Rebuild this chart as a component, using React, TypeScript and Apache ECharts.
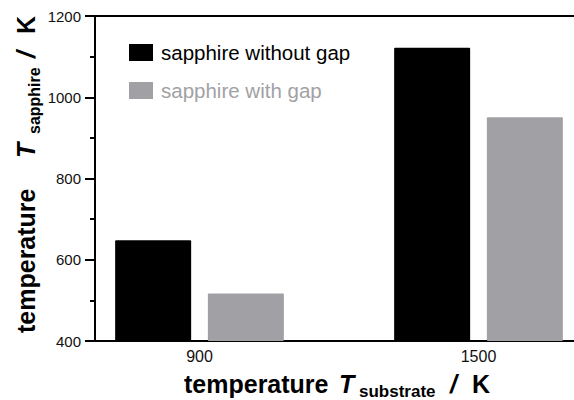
import React, { useEffect, useRef } from "react";
import * as echarts from "echarts";

const categories = ["900", "1500"];
const seriesNames = ["sapphire without gap", "sapphire with gap"];
const withoutGap = [648, 1122];
const withGap = [517, 951];
const yTicks = [400, 600, 800, 1000, 1200];

const FONT = "'Liberation Sans', Arial, sans-serif";
const BLACK = "#000000";
const GRAY = "#a1a1a5";

export default function App() {
  const ref = useRef<HTMLDivElement>(null);
  useEffect(() => {
    if (!ref.current) return;
    const chart = echarts.init(ref.current, undefined, { renderer: "svg" });
    const xMin = -0.3746;
    const xMax = 1.3423;
    const titleMain = { fontFamily: FONT, fontSize: 25, fontWeight: "bold" as const, fill: "#000" };
    const titleSub = { fontFamily: FONT, fontSize: 17, fontWeight: "bold" as const, fill: "#000" };
    chart.setOption({
      animation: false,
      grid: { left: 95, right: 0, top: 16, bottom: 59, containLabel: false },
      legend: {
        orient: "vertical",
        left: 129,
        top: 42,
        padding: 0,
        itemWidth: 24,
        itemHeight: 17,
        itemGap: 17,
        icon: "rect",
        selectedMode: false,
        textStyle: { fontFamily: FONT, fontSize: 20.5, padding: [0, 0, 0, 3] },
        data: [
          { name: seriesNames[0], textStyle: { color: BLACK } },
          { name: seriesNames[1], textStyle: { color: GRAY } },
        ],
      },
      xAxis: [
        {
          type: "value",
          position: "bottom",
          min: xMin,
          max: xMax,
          splitLine: { show: false },
          axisTick: { show: false },
          axisLine: { show: true, onZero: false, lineStyle: { color: "#000", width: 2 } },
          axisLabel: {
            customValues: categories.map((_, i) => i),
            formatter: (v: number) => categories[Math.round(v)] ?? "",
            fontFamily: FONT,
            fontSize: 16,
            color: "#111",
            margin: 7,
          },
        },
        {
          type: "value",
          position: "top",
          min: xMin,
          max: xMax,
          splitLine: { show: false },
          axisTick: { show: false },
          axisLabel: { show: false },
          axisLine: { show: true, onZero: false, lineStyle: { color: "#000", width: 2 } },
        },
      ],
      yAxis: {
        type: "value",
        min: yTicks[0],
        max: yTicks[yTicks.length - 1],
        interval: 200,
        splitLine: { show: false },
        axisLine: { show: true, onZero: false, lineStyle: { color: "#000", width: 2 } },
        axisTick: { show: true, length: 10, lineStyle: { color: "#000", width: 2 } },
        minorTick: { show: true, splitNumber: 2, length: 5, lineStyle: { color: "#000", width: 2 } },
        axisLabel: { fontFamily: FONT, fontSize: 15, color: "#111", margin: 14, formatter: (v: number) => String(v) },
      },
      series: [
        {
          name: seriesNames[0],
          type: "bar",
          barWidth: 76,
          barGap: "22%",
          itemStyle: { color: BLACK, borderRadius: 1 },
          data: categories.map((_, i) => [i, withoutGap[i]]),
        },
        {
          name: seriesNames[1],
          type: "bar",
          barWidth: 76,
          barGap: "22%",
          itemStyle: { color: GRAY, borderRadius: 1 },
          data: categories.map((_, i) => [i, withGap[i]]),
        },
      ],
      graphic: [
        { type: "text", x: 184, y: 384, style: { ...titleMain, text: "temperature", align: "left", verticalAlign: "middle" } },
        { type: "text", x: 339, y: 384, style: { ...titleMain, fontStyle: "italic", text: "T", align: "left", verticalAlign: "middle" } },
        { type: "text", x: 359, y: 391, style: { ...titleSub, text: "substrate", align: "left", verticalAlign: "middle" } },
        { type: "text", x: 450, y: 384, style: { ...titleMain, fontStyle: "italic", text: "/", align: "left", verticalAlign: "middle" } },
        { type: "text", x: 472, y: 384, style: { ...titleMain, text: "K", align: "left", verticalAlign: "middle" } },
        { type: "text", x: 25.5, y: 333, rotation: Math.PI / 2, style: { ...titleMain, text: "temperature", align: "left", verticalAlign: "middle" } },
        { type: "text", x: 25.5, y: 158, rotation: Math.PI / 2, style: { ...titleMain, fontStyle: "italic", text: "T", align: "left", verticalAlign: "middle" } },
        { type: "text", x: 34.5, y: 134, rotation: Math.PI / 2, style: { ...titleSub, fontSize: 16, text: "sapphire", align: "left", verticalAlign: "middle" } },
        { type: "text", x: 25.5, y: 58, rotation: Math.PI / 2, style: { ...titleMain, fontStyle: "italic", text: "/", align: "left", verticalAlign: "middle" } },
        { type: "text", x: 25.5, y: 34, rotation: Math.PI / 2, style: { ...titleMain, text: "K", align: "left", verticalAlign: "middle" } },
      ],
    });
    return () => chart.dispose();
  }, []);
  return <div ref={ref} style={{ width: 574, height: 400, position: "absolute", left: 0, top: 0 }} />;
}
